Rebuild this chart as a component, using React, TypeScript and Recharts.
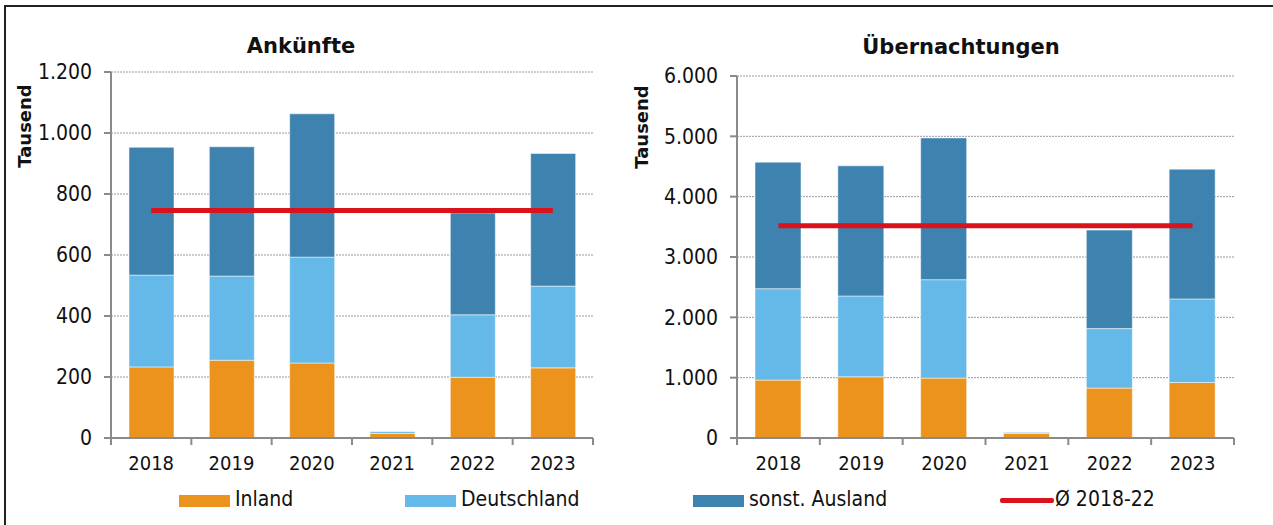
import { BarChart, Bar, Line, XAxis, YAxis, CartesianGrid, ComposedChart } from 'recharts';

const years = ['2018', '2019', '2020', '2021', '2022', '2023'];

// Ankünfte, Tausend
const ankInland = [233, 255, 246, 15, 199, 230];
const ankDeutschland = [301, 276, 347, 6, 205, 268];
const ankAusland = [419, 424, 470, 1, 334, 435];
const ankAvg = 746;
const ankTicks = [0, 200, 400, 600, 800, 1000, 1200];

// Übernachtungen, Tausend
const ubInland = [960, 1014, 993, 75, 827, 920];
const ubDeutschland = [1515, 1340, 1631, 20, 986, 1385];
const ubAusland = [2097, 2157, 2350, 5, 1633, 2151];
const ubAvg = 3519;
const ubTicks = [0, 1000, 2000, 3000, 4000, 5000, 6000];

const ORANGE = '#EC931E';
const LIGHT = '#64B9E9';
const DARK = '#3E83AF';
const RED = '#D9121B';
const AXIS = '#8a8a8a';

const tickFont = "'DejaVu Sans Condensed', 'DejaVu Sans', sans-serif";
const boldFont = "'DejaVu Sans', sans-serif";

const ankData = years.map((y, i) => ({
  year: y,
  inland: ankInland[i],
  de: ankDeutschland[i],
  ausland: ankAusland[i],
  avg: ankAvg,
}));

const ubData = years.map((y, i) => ({
  year: y,
  inland: ubInland[i],
  de: ubDeutschland[i],
  ausland: ubAusland[i],
  avg: ubAvg,
}));

const fmt = (v: number) => String(v).replace(/\B(?=(\d{3})+(?!\d))/g, '.');

// x tick: label plus tick marks at the category boundaries
function makeTick(cw: number, n: number) {
  return (props: any) => {
    const { x, y, payload, index } = props;
    return (
      <g>
        <line x1={x - cw / 2} x2={x - cw / 2} y1={y} y2={y + 7} stroke={AXIS} strokeWidth={2} />
        {index === n - 1 && (
          <line x1={x + cw / 2} x2={x + cw / 2} y1={y} y2={y + 7} stroke={AXIS} strokeWidth={2} />
        )}
        <text x={x} y={y + 32} textAnchor="middle" fontSize={20} fontFamily={tickFont} fill="#111">
          {payload.value}
        </text>
      </g>
    );
  };
}

interface PanelProps {
  data: any[];
  ticks: number[];
  width: number;
  margin: { top: number; right: number; left: number; bottom: number };
  barSize: number;
}

function Panel({ data, ticks, width, margin, barSize }: PanelProps) {
  const height = 480;
  const cw = (width - margin.left - margin.right - 60) / years.length;
  return (
    <ComposedChart width={width} height={height} data={data} margin={margin}>
      <CartesianGrid vertical={false} stroke="#9a9a9a" strokeDasharray="2 1" />
      <XAxis
        dataKey="year"
        height={30}
        tickLine={false}
        tickSize={0}
        tickMargin={0}
        axisLine={{ stroke: AXIS, strokeWidth: 2 }}
        tick={makeTick(cw, years.length)}
        interval={0}
      />
      <YAxis
        width={60}
        domain={[0, ticks[ticks.length - 1]]}
        ticks={ticks}
        tickFormatter={fmt}
        axisLine={{ stroke: AXIS, strokeWidth: 2 }}
        tickLine={{ stroke: AXIS, strokeWidth: 2 }}
        tickSize={7}
        tickMargin={12}
        tick={{ fontSize: 21, fontFamily: tickFont, fill: '#111' }}
        interval={0}
      />
      <Bar dataKey="inland" stackId="a" fill={ORANGE} barSize={barSize} stroke="#fff" strokeOpacity={0.5} strokeWidth={1} isAnimationActive={false} />
      <Bar dataKey="de" stackId="a" fill={LIGHT} barSize={barSize} stroke="#fff" strokeOpacity={0.5} strokeWidth={1} isAnimationActive={false} />
      <Bar dataKey="ausland" stackId="a" fill={DARK} barSize={barSize} stroke="#fff" strokeOpacity={0.5} strokeWidth={1} isAnimationActive={false} />
      <Line dataKey="avg" stroke={RED} strokeWidth={5} dot={false} activeDot={false} isAnimationActive={false} />
    </ComposedChart>
  );
}

const abs = (s: React.CSSProperties): React.CSSProperties => ({ position: 'absolute', ...s });

function Swatch({ left, color, label, line }: { left: number; color: string; label: string; line?: boolean }) {
  return (
    <>
      {line ? (
        <div style={abs({ left, top: 498, width: 54, height: 5, background: color, borderRadius: 2 })} />
      ) : (
        <div style={abs({ left, top: 495, width: 51, height: 12, background: color })} />
      )}
      <div
        style={abs({
          left: left + (line ? 55 : 56),
          top: 489,
          fontSize: 21,
          lineHeight: '21px',
          fontFamily: tickFont,
          color: '#111',
          whiteSpace: 'nowrap',
        })}
      >
        {label}
      </div>
    </>
  );
}

export default function App() {
  const titleStyle: React.CSSProperties = {
    fontFamily: boldFont,
    fontWeight: 'bold',
    fontSize: 21,
    lineHeight: '21px',
    textAlign: 'center',
    color: '#111',
  };
  const tausend: React.CSSProperties = {
    fontFamily: boldFont,
    fontWeight: 'bold',
    fontSize: 18,
    lineHeight: '22px',
    width: 120,
    height: 22,
    textAlign: 'center',
    transform: 'rotate(-90deg)',
    color: '#111',
  };
  return (
    <div style={abs({ left: 0, top: 0, width: 1273, height: 525, background: '#fff', overflow: 'hidden' })}>
      <div style={abs({ left: 4, top: 5, width: 1280, height: 530, borderLeft: '2px solid #222', borderTop: '2px solid #222' })} />
      <div style={abs({ left: 0, top: 0 })}>
        <Panel data={ankData} ticks={ankTicks} width={640} margin={{ top: 72, right: 47, left: 51, bottom: 12 }} barSize={45} />
      </div>
      <div style={abs({ left: 640, top: 0 })}>
        <Panel data={ubData} ticks={ubTicks} width={633} margin={{ top: 76, right: 39, left: 37, bottom: 12 }} barSize={46} />
      </div>
      <div style={abs({ ...titleStyle, left: 201, top: 36, width: 200 })}>Ankünfte</div>
      <div style={abs({ ...titleStyle, left: 861, top: 37, width: 200 })}>Übernachtungen</div>
      <div style={abs({ ...tausend, left: 25 - 60, top: 126 - 11 })}>Tausend</div>
      <div style={abs({ ...tausend, left: 642 - 60, top: 127 - 11 })}>Tausend</div>
      <Swatch left={179} color={ORANGE} label="Inland" />
      <Swatch left={405} color={LIGHT} label="Deutschland" />
      <Swatch left={693} color={DARK} label="sonst. Ausland" />
      <Swatch left={1000} color={RED} label="Ø 2018-22" line />
    </div>
  );
}
